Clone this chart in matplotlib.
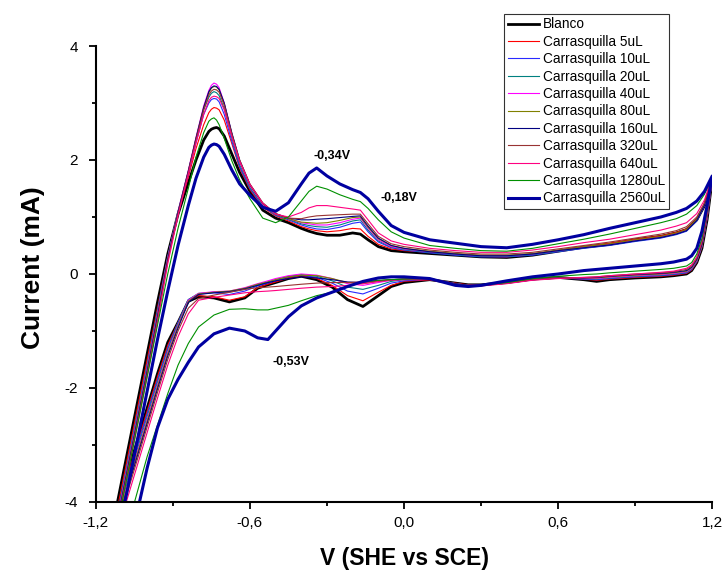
import numpy as np
import matplotlib.pyplot as plt

plt.rcParams['font.family'] = ['Liberation Sans', 'DejaVu Sans']

# potential grids (V) for the anodic (forward) and cathodic (reverse) sweeps
v_fwd = [-1.12, -1.08, -1.04, -1.00, -0.96,
         -0.92, -0.88, -0.84, -0.81, -0.78,
         -0.76, -0.75, -0.74, -0.73, -0.72, -0.70, -0.67,
         -0.64, -0.60, -0.55, -0.50, -0.45,
         -0.40, -0.37, -0.34, -0.30, -0.25,
         -0.20, -0.17, -0.14, -0.10, -0.05,
         0.00, 0.10, 0.20, 0.30, 0.40,
         0.50, 0.60, 0.70, 0.80, 0.90,
         1.00, 1.06, 1.10, 1.14, 1.17,
         1.20]
v_rev = [1.20, 1.18, 1.16, 1.14, 1.12,
         1.10, 1.05, 1.00, 0.90, 0.80,
         0.75, 0.70, 0.60, 0.50, 0.40,
         0.30, 0.25, 0.20, 0.10, 0.00,
         -0.05, -0.10, -0.16, -0.22, -0.28,
         -0.34, -0.40, -0.45, -0.50, -0.53,
         -0.57, -0.62, -0.68, -0.74, -0.80,
         -0.84, -0.88, -0.92, -0.96, -1.00,
         -1.04, -1.08, -1.12]

# currents (mA)
blanco_fwd = [-4.1, -3.2, -2.3, -1.4, -0.5,
              0.35, 1.05, 1.6, 2.0, 2.35,
              2.5, 2.54, 2.56, 2.57, 2.55, 2.42, 2.1,
              1.78, 1.45, 1.12, 0.98, 0.9,
              0.8, 0.75, 0.71, 0.68, 0.68,
              0.72, 0.7, 0.6, 0.48, 0.41,
              0.39, 0.36, 0.33, 0.3, 0.29,
              0.33, 0.4, 0.47, 0.52, 0.6,
              0.66, 0.72, 0.78, 0.95, 1.2,
              1.66]
blanco_rev = [1.66, 0.95, 0.45, 0.2, 0.06,
              0.0, -0.03, -0.05, -0.07, -0.1,
              -0.13, -0.1, -0.06, -0.09, -0.15,
              -0.19, -0.19, -0.16, -0.1, -0.15,
              -0.22, -0.38, -0.57, -0.45, -0.23,
              -0.1, -0.04, -0.08, -0.15, -0.19,
              -0.25, -0.42, -0.49, -0.42, -0.4,
              -0.48, -0.85, -1.2, -1.75, -2.35,
              -2.95, -3.55, -4.15]

c5_fwd = [-4.2, -3.3, -2.4, -1.5, -0.6,
          0.3, 1.05, 1.7, 2.2, 2.62,
          2.83, 2.89, 2.92, 2.91, 2.88, 2.7, 2.28,
          1.86, 1.48, 1.17, 1.02, 0.93,
          0.83, 0.79, 0.76, 0.74, 0.76,
          0.8, 0.79, 0.66, 0.52, 0.44,
          0.41, 0.38, 0.34, 0.31, 0.3,
          0.34, 0.41, 0.48, 0.54, 0.61,
          0.67, 0.73, 0.79, 0.96, 1.21,
          1.67]
c5_rev = [1.66, 0.97, 0.47, 0.21, 0.07,
          0.01, -0.02, -0.04, -0.06, -0.09,
          -0.11, -0.09, -0.06, -0.09, -0.15,
          -0.19, -0.19, -0.16, -0.1, -0.13,
          -0.2, -0.32, -0.47, -0.38, -0.2,
          -0.08, -0.03, -0.07, -0.14, -0.18,
          -0.24, -0.4, -0.46, -0.4, -0.38,
          -0.47, -0.85, -1.25, -1.8, -2.4,
          -3.0, -3.6, -4.2]

c10_fwd = [-4.3, -3.4, -2.5, -1.6, -0.65,
           0.3, 1.08, 1.75, 2.3, 2.8,
           3.0, 3.06, 3.08, 3.07, 3.02, 2.8, 2.32,
           1.88, 1.5, 1.19, 1.03, 0.95,
           0.86, 0.82, 0.79, 0.78, 0.82,
           0.89, 0.91, 0.74, 0.56, 0.46,
           0.42, 0.37, 0.33, 0.3, 0.3,
           0.33, 0.39, 0.45, 0.5, 0.57,
           0.63, 0.69, 0.75, 0.93, 1.2,
           1.67]
c10_rev = [1.66, 0.98, 0.48, 0.22, 0.08,
           0.02, -0.01, -0.03, -0.05, -0.08,
           -0.1, -0.09, -0.07, -0.1, -0.16,
           -0.2, -0.2, -0.17, -0.09, -0.12,
           -0.16, -0.25, -0.35, -0.3, -0.16,
           -0.06, -0.02, -0.05, -0.12, -0.16,
           -0.21, -0.3, -0.36, -0.33, -0.35,
           -0.45, -0.85, -1.3, -1.86, -2.45,
           -3.05, -3.65, -4.25]

c20_fwd = [-4.3, -3.4, -2.5, -1.6, -0.65,
           0.3, 1.1, 1.8, 2.36, 2.88,
           3.1, 3.17, 3.2, 3.18, 3.13, 2.9, 2.38,
           1.92, 1.52, 1.2, 1.04, 0.96,
           0.88, 0.85, 0.83, 0.82, 0.86,
           0.93, 0.95, 0.77, 0.58, 0.47,
           0.43, 0.38, 0.34, 0.31, 0.31,
           0.34, 0.4, 0.46, 0.51, 0.58,
           0.64, 0.7, 0.76, 0.94, 1.21,
           1.68]
c20_rev = [1.67, 0.99, 0.49, 0.23, 0.09,
           0.03, 0.0, -0.02, -0.04, -0.07,
           -0.09, -0.08, -0.07, -0.1, -0.16,
           -0.2, -0.2, -0.17, -0.09, -0.1,
           -0.13, -0.2, -0.27, -0.23, -0.12,
           -0.04, -0.01, -0.04, -0.1, -0.14,
           -0.19, -0.27, -0.32, -0.32, -0.34,
           -0.45, -0.87, -1.33, -1.9, -2.5,
           -3.1, -3.7, -4.3]

c40_fwd = [-4.35, -3.45, -2.55, -1.65, -0.7,
           0.28, 1.1, 1.82, 2.4, 2.95,
           3.22, 3.31, 3.35, 3.33, 3.27, 3.0, 2.45,
           1.96, 1.55, 1.22, 1.05, 0.97,
           0.9, 0.88, 0.86, 0.86, 0.9,
           0.96, 0.98, 0.8, 0.6, 0.48,
           0.44, 0.39, 0.35, 0.32, 0.32,
           0.35, 0.41, 0.47, 0.52, 0.59,
           0.65, 0.71, 0.77, 0.95, 1.22,
           1.68]
c40_rev = [1.67, 1.0, 0.5, 0.24, 0.1,
           0.04, 0.01, -0.01, -0.03, -0.06,
           -0.08, -0.08, -0.07, -0.1, -0.16,
           -0.2, -0.2, -0.17, -0.08, -0.09,
           -0.11, -0.15, -0.2, -0.17, -0.08,
           -0.02, 0.0, -0.03, -0.08, -0.12,
           -0.17, -0.24, -0.3, -0.31, -0.34,
           -0.46, -0.9, -1.37, -1.95, -2.55,
           -3.15, -3.75, -4.35]

c80_fwd = [-4.4, -3.5, -2.6, -1.7, -0.75,
           0.25, 1.08, 1.8, 2.38, 2.92,
           3.18, 3.26, 3.29, 3.28, 3.23, 2.98, 2.45,
           1.98, 1.56, 1.23, 1.05, 0.97,
           0.91, 0.9, 0.89, 0.9, 0.94,
           0.99, 1.0, 0.82, 0.62, 0.5,
           0.45, 0.4, 0.36, 0.33, 0.33,
           0.36, 0.42, 0.48, 0.53, 0.6,
           0.66, 0.72, 0.78, 0.96, 1.22,
           1.68]
c80_rev = [1.67, 1.01, 0.51, 0.25, 0.11,
           0.05, 0.02, 0.0, -0.02, -0.05,
           -0.07, -0.07, -0.07, -0.1, -0.16,
           -0.2, -0.2, -0.17, -0.08, -0.09,
           -0.1, -0.13, -0.17, -0.15, -0.08,
           -0.03, -0.02, -0.05, -0.1, -0.14,
           -0.18, -0.25, -0.3, -0.32, -0.35,
           -0.48, -0.92, -1.4, -1.98, -2.58,
           -3.18, -3.78, -4.38]

c160_fwd = [-4.4, -3.5, -2.6, -1.7, -0.75,
            0.25, 1.08, 1.8, 2.38, 2.92,
            3.2, 3.27, 3.3, 3.29, 3.24, 3.0, 2.47,
            2.0, 1.57, 1.24, 1.06, 0.98,
            0.95, 0.95, 0.96, 0.97, 0.99,
            1.01, 1.02, 0.84, 0.63, 0.5,
            0.45, 0.39, 0.35, 0.32, 0.32,
            0.35, 0.41, 0.46, 0.51, 0.58,
            0.64, 0.7, 0.76, 0.94, 1.21,
            1.68]
c160_rev = [1.67, 1.02, 0.52, 0.26, 0.12,
            0.06, 0.03, 0.01, -0.01, -0.04,
            -0.06, -0.07, -0.07, -0.1, -0.16,
            -0.2, -0.2, -0.17, -0.08, -0.09,
            -0.1, -0.12, -0.15, -0.14, -0.1,
            -0.07, -0.05, -0.08, -0.12, -0.15,
            -0.2, -0.26, -0.31, -0.33, -0.36,
            -0.5, -0.95, -1.44, -2.02, -2.62,
            -3.22, -3.82, -4.42]

c320_fwd = [-4.45, -3.55, -2.65, -1.75, -0.8,
            0.22, 1.05, 1.78, 2.35, 2.88,
            3.14, 3.21, 3.24, 3.23, 3.19, 2.96, 2.45,
            2.0, 1.58, 1.25, 1.06, 0.98,
            0.97, 1.0, 1.02, 1.03, 1.04,
            1.05, 1.05, 0.88, 0.66, 0.53,
            0.48, 0.42, 0.38, 0.35, 0.35,
            0.38, 0.44, 0.5, 0.56, 0.63,
            0.7, 0.76, 0.83, 1.0, 1.25,
            1.69]
c320_rev = [1.68, 1.04, 0.55, 0.28, 0.14,
            0.08, 0.04, 0.02, 0.0, -0.03,
            -0.05, -0.06, -0.07, -0.1, -0.16,
            -0.2, -0.21, -0.18, -0.09, -0.09,
            -0.1, -0.12, -0.14, -0.15, -0.15,
            -0.16, -0.18, -0.2, -0.22, -0.23,
            -0.24, -0.27, -0.32, -0.37, -0.43,
            -0.6, -1.0, -1.5, -2.08, -2.68,
            -3.28, -3.88, -4.48]

c640_fwd = [-4.5, -3.6, -2.7, -1.8, -0.85,
            0.18, 1.02, 1.75, 2.3, 2.8,
            3.04, 3.1, 3.12, 3.11, 3.08, 2.88, 2.4,
            1.98, 1.57, 1.24, 1.05, 1.0,
            1.08, 1.16, 1.2, 1.2, 1.17,
            1.14, 1.12, 0.95, 0.72, 0.58,
            0.52, 0.45, 0.41, 0.38, 0.38,
            0.42, 0.48, 0.55, 0.61, 0.69,
            0.77, 0.84, 0.9, 1.06, 1.3,
            1.7]
c640_rev = [1.69, 1.06, 0.58, 0.3, 0.16,
            0.1, 0.05, 0.03, 0.0, -0.03,
            -0.05, -0.06, -0.08, -0.11, -0.17,
            -0.21, -0.22, -0.19, -0.1, -0.1,
            -0.11, -0.13, -0.17, -0.2, -0.22,
            -0.23, -0.25, -0.27, -0.29, -0.3,
            -0.31, -0.33, -0.37, -0.41, -0.46,
            -0.7, -1.1, -1.6, -2.18, -2.78,
            -3.38, -3.98, -4.58]

c1280_fwd = [-4.5, -3.6, -2.7, -1.8, -0.9,
             0.0, 0.8, 1.5, 2.05, 2.48,
             2.68, 2.72, 2.74, 2.7, 2.62, 2.38, 1.98,
             1.65, 1.32, 0.98, 0.9, 1.0,
             1.28, 1.45, 1.54, 1.49, 1.39,
             1.31, 1.27, 1.15, 0.95, 0.74,
             0.63, 0.5, 0.45, 0.41, 0.4,
             0.45, 0.53, 0.61, 0.7, 0.8,
             0.9, 0.97, 1.05, 1.2, 1.4,
             1.7]
c1280_rev = [1.7, 1.1, 0.62, 0.35, 0.2,
             0.14, 0.1, 0.08, 0.05, 0.02,
             0.0, -0.01, -0.04, -0.08, -0.15,
             -0.2, -0.21, -0.19, -0.08, -0.09,
             -0.1, -0.11, -0.14, -0.22, -0.32,
             -0.38, -0.47, -0.55, -0.6, -0.63,
             -0.63, -0.61, -0.62, -0.72, -0.93,
             -1.22, -1.6, -2.1, -2.65, -3.2,
             -3.85, -4.5, -5.1]

c2560_fwd = [-4.7, -3.85, -2.95, -2.05, -1.15,
             -0.3, 0.5, 1.2, 1.68, 2.05,
             2.22, 2.26, 2.28, 2.27, 2.24, 2.1, 1.82,
             1.58, 1.38, 1.17, 1.1, 1.25,
             1.58, 1.77, 1.86, 1.72, 1.58,
             1.48, 1.43, 1.32, 1.1, 0.85,
             0.73, 0.6, 0.54, 0.48, 0.46,
             0.52, 0.6, 0.69, 0.8, 0.9,
             1.0, 1.08, 1.15, 1.28, 1.45,
             1.72]
c2560_rev = [1.72, 1.2, 0.75, 0.45, 0.32,
             0.26, 0.21, 0.18, 0.14, 0.1,
             0.08, 0.06, 0.0, -0.05, -0.12,
             -0.2, -0.22, -0.2, -0.08, -0.05,
             -0.05, -0.07, -0.13, -0.22, -0.32,
             -0.42, -0.56, -0.75, -1.0, -1.15,
             -1.12, -1.0, -0.95, -1.05, -1.28,
             -1.55, -1.85, -2.2, -2.7, -3.4,
             -4.2, -5.0, -5.8]

labels = ['Blanco', 'Carrasquilla 5uL', 'Carrasquilla 10uL', 'Carrasquilla 20uL',
          'Carrasquilla 40uL', 'Carrasquilla 80uL', 'Carrasquilla 160uL',
          'Carrasquilla 320uL', 'Carrasquilla 640uL', 'Carrasquilla 1280uL',
          'Carrasquilla 2560uL']
fwd = [blanco_fwd, c5_fwd, c10_fwd, c20_fwd, c40_fwd, c80_fwd, c160_fwd,
       c320_fwd, c640_fwd, c1280_fwd, c2560_fwd]
rev = [blanco_rev, c5_rev, c10_rev, c20_rev, c40_rev, c80_rev, c160_rev,
       c320_rev, c640_rev, c1280_rev, c2560_rev]
colors = ['black', '#ff0000', '#2a2aff', '#008080', '#ff00ff', '#808000',
          '#000080', '#993333', '#ff0080', '#009000', '#0000a0']
widths = [2.0, 0.8, 0.8, 0.8, 0.8, 0.8, 0.8, 0.8, 0.8, 0.8, 2.2]

fig = plt.figure(figsize=(7.26, 5.75), dpi=100)
ax = fig.add_axes([0.132, 0.127, 0.849, 0.793])

for f, r, lab, c, w in zip(fwd, rev, labels, colors, widths):
    v = np.concatenate([v_fwd, v_rev])
    i = np.concatenate([f, r])
    ax.plot(v, i, color=c, lw=w, label=lab)

ax.set_xlim(-1.2, 1.2)
ax.set_ylim(-4, 4)
ax.set_xticks([-1.2, -0.6, 0.0, 0.6, 1.2])
ax.set_xticklabels(['-1,2', '-0,6', '0,0', '0,6', '1,2'])
ax.set_xticks([-0.9, -0.3, 0.3, 0.9], minor=True)
ax.set_yticks([-4, -2, 0, 2, 4])
ax.set_yticklabels(['-4', '-2', '0', '2', '4'])
ax.set_yticks([-3, -1, 1, 3], minor=True)
ax.tick_params(which='major', direction='out', length=5, width=1.3, labelsize=11)
ax.tick_params(which='minor', direction='out', length=3, width=1.3)
ax.tick_params(axis='y', which='major', pad=8)
ax.tick_params(axis='x', which='major', pad=5)
for s in ['top', 'right']:
    ax.spines[s].set_visible(False)
for s in ['left', 'bottom']:
    ax.spines[s].set_linewidth(1.5)

ax.set_xlabel('V (SHE vs SCE)', fontsize=16.5, fontweight='bold', labelpad=12)
ax.set_ylabel('Current (mA)', fontsize=19, fontweight='bold')
ax.yaxis.set_label_coords(-0.083, 0.515)

ax.text(-0.28, 2.07, '-0,34V', fontsize=9, fontweight='bold', ha='center', va='center')
ax.text(-0.02, 1.33, '-0,18V', fontsize=9, fontweight='bold', ha='center', va='center')
ax.text(-0.44, -1.54, '-0,53V', fontsize=9, fontweight='bold', ha='center', va='center')

leg = ax.legend(loc='upper right', bbox_to_anchor=(669 / 726, 1 - 14 / 575),
                bbox_transform=fig.transFigure, fontsize=9.8, frameon=True,
                fancybox=False, borderaxespad=0, labelspacing=0.25,
                handlelength=2.3, handletextpad=0.3, borderpad=0.25)
leg.get_frame().set_edgecolor('black')
leg.get_frame().set_linewidth(0.8)

fig.savefig('out.png', dpi=100)
